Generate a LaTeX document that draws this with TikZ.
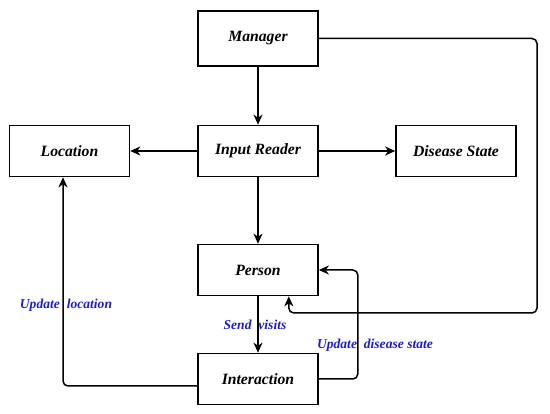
\documentclass[tikz,border=0pt]{standalone}
\usepackage{fontspec}
\setmainfont{Liberation Serif}
\usepackage{xcolor}
\usetikzlibrary{arrows.meta, positioning, calc}
\definecolor{labblue}{RGB}{30,30,200}

\begin{document}
\begin{tikzpicture}[
      x=1pt, y=-1pt,
      mainbox/.style={draw, line width=1.6pt, align=center, minimum width=120pt, minimum height=51pt, inner sep=2pt, font=\fontsize{15.7}{18}\selectfont\bfseries\itshape},
      arrow/.style={-{Stealth[length=10pt, width=9pt, inset=3pt]}, line width=1.5pt, rounded corners=5pt},
      lab/.style={font=\fontsize{13.6}{16}\selectfont\bfseries\itshape, text=labblue, inner sep=0pt}
    ]
      \useasboundingbox (0,0) rectangle (550,414);

      % Main nodes
      \node[mainbox, minimum height=55pt] (manager) at (258,38.5) {Manager};
      \node[mainbox] (reader) at (258,151) {Input Reader};
      \node[mainbox] (location) at (69.5,151) {Location};
      \node[mainbox] (disease) at (456,151) {Disease State};
      \node[mainbox] (person) at (258,270) {Person};
      \node[mainbox] (interaction) at (258,379) {Interaction};

      % Turning point of the manager loop
      \coordinate (loopturn) at (537,313);

      % Arrows
      \draw[arrow] (manager.south) -- (reader.north);
      \draw[arrow] (reader.west) -- (location.east);
      \draw[arrow] (reader.east) -- (disease.west);
      \draw[arrow] (reader.south) -- (person.north);
      \draw[arrow] (person.south) -- (interaction.north);
      \draw[arrow]
        (manager.east) -|
        (loopturn) -|
        ([xshift=-30pt]person.south east);
      \draw[arrow]
        (interaction.east) --
        ++(39,0) |-
        (person.east);
      \draw[arrow]
        ([yshift=-7pt]interaction.west) -|
        ([xshift=-6.5pt]location.south);

      % Labels
      \node[lab] (sendlab) at (255,325) {Send~ visits};
      \node[lab] (diseaselab) at (375,345) {Update~ disease state};
      \node[lab] (locationlab) at (66,305) {Update~ location};
    \end{tikzpicture}
\end{document}
